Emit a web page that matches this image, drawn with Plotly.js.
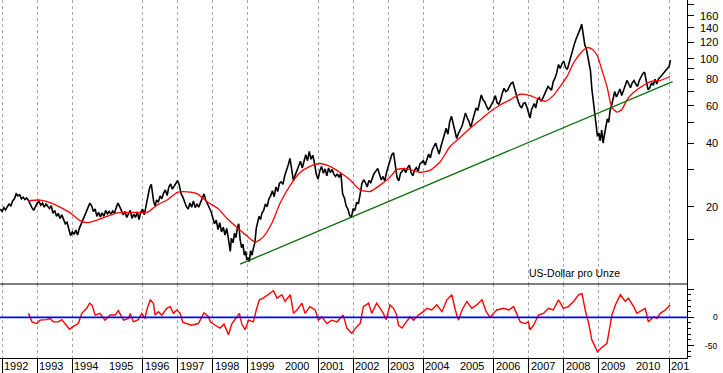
<!DOCTYPE html>
<html><head><meta charset="utf-8">
<script src="https://cdn.plot.ly/plotly-3.0.1.min.js"></script>
<style>html,body{margin:0;padding:0;background:#fff}#chart{width:723px;height:373px}</style>
</head><body><div id="chart"></div>
<script>
// Price (black), decimal years
const priceX = [
1991.95,1992.00,1992.05,1992.10,1992.15,1992.20,1992.25,1992.30,1992.35,1992.40,1992.45,1992.50,1992.55,1992.60,1992.65,1992.70,1992.75,1992.80,1992.85,1992.90,1992.95,
1993.00,1993.05,1993.10,1993.15,1993.20,1993.25,1993.30,1993.35,1993.40,1993.45,1993.50,1993.55,1993.60,1993.65,1993.70,1993.75,1993.80,1993.85,1993.90,1993.95,
1994.00,1994.05,1994.10,1994.15,1994.20,1994.25,1994.30,1994.35,1994.40,1994.45,1994.50,1994.55,1994.60,1994.65,1994.70,1994.75,1994.80,1994.85,1994.90,1994.95,
1995.00,1995.05,1995.10,1995.15,1995.20,1995.25,1995.30,1995.35,1995.40,1995.45,1995.50,1995.55,1995.60,1995.65,1995.70,1995.75,1995.80,1995.85,1995.90,1995.95,
1996.00,1996.05,1996.10,1996.15,1996.20,1996.25,1996.28,1996.32,1996.36,1996.40,1996.45,1996.50,1996.55,1996.60,1996.65,1996.70,1996.75,1996.80,1996.85,1996.90,1996.95,
1997.00,1997.05,1997.10,1997.15,1997.20,1997.25,1997.30,1997.35,1997.40,1997.45,1997.50,1997.55,1997.60,1997.65,1997.70,1997.75,1997.80,1997.85,1997.90,1997.95,
1998.00,1998.05,1998.10,1998.15,1998.20,1998.25,1998.30,1998.35,1998.40,1998.45,1998.50,1998.53,1998.58,1998.62,1998.66,1998.70,1998.74,1998.78,1998.82,1998.86,1998.90,1998.94,1998.97,
1999.00,1999.04,1999.08,1999.12,1999.16,1999.20,1999.24,1999.28,1999.32,1999.36,1999.40,1999.45,1999.50,1999.55,1999.60,1999.65,1999.70,1999.75,1999.80,1999.85,1999.90,1999.95,
2000.00,2000.05,2000.10,2000.15,2000.20,2000.25,2000.30,2000.35,2000.40,2000.45,2000.50,2000.55,2000.60,2000.65,2000.70,2000.75,2000.80,2000.85,2000.90,2000.95,
2001.00,2001.05,2001.10,2001.15,2001.20,2001.25,2001.30,2001.35,2001.40,2001.45,2001.50,2001.55,2001.60,2001.65,2001.70,2001.75,2001.80,2001.85,2001.90,2001.95,
2002.00,2002.05,2002.10,2002.15,2002.20,2002.25,2002.30,2002.35,2002.40,2002.45,2002.50,2002.55,2002.60,2002.65,2002.70,2002.75,2002.80,2002.85,2002.90,2002.95,
2003.00,2003.05,2003.10,2003.15,2003.20,2003.25,2003.30,2003.35,2003.40,2003.45,2003.50,2003.55,2003.60,2003.65,2003.70,2003.75,2003.80,2003.85,2003.90,2003.95,
2004.00,2004.05,2004.10,2004.15,2004.20,2004.25,2004.30,2004.35,2004.40,2004.45,2004.50,2004.55,2004.60,2004.65,2004.70,2004.75,2004.80,2004.85,2004.90,2004.95,
2005.00,2005.05,2005.10,2005.15,2005.20,2005.25,2005.30,2005.35,2005.40,2005.45,2005.50,2005.55,2005.60,2005.65,2005.70,2005.75,2005.80,2005.85,2005.90,2005.95,
2006.00,2006.05,2006.10,2006.15,2006.20,2006.25,2006.30,2006.35,2006.40,2006.45,2006.50,2006.55,2006.60,2006.65,2006.70,2006.75,2006.80,2006.85,2006.90,2006.95,
2007.00,2007.04,2007.08,2007.12,2007.16,2007.20,2007.25,2007.30,2007.35,2007.40,2007.45,2007.50,2007.55,2007.60,2007.65,2007.70,2007.75,2007.80,2007.85,2007.90,2007.95,
2008.00,2008.05,2008.10,2008.15,2008.20,2008.25,2008.30,2008.35,2008.40,2008.45,2008.48,2008.51,2008.54,2008.57,2008.60,2008.64,2008.68,2008.72,2008.76,2008.80,2008.84,2008.88,2008.92,2008.96,
2009.00,2009.04,2009.08,2009.12,2009.16,2009.20,2009.24,2009.28,2009.32,2009.36,2009.40,2009.45,2009.50,2009.55,2009.60,2009.65,2009.70,2009.75,2009.80,2009.85,2009.90,2009.95,
2010.00,2010.05,2010.10,2010.15,2010.20,2010.25,2010.30,2010.35,2010.40,2010.45,2010.50,2010.55,2010.60,2010.65,2010.70,2010.75,2010.80,2010.85,2010.90,2010.95,
2011.00,2011.04];
const priceY = [
19.5,19.0,19.8,19.3,20.0,20.6,20.2,21.3,21.8,23.0,22.5,22.8,21.8,22.2,21.6,22.0,21.4,20.5,19.8,19.2,20.0,
20.8,21.2,20.3,20.8,19.9,20.6,20.1,19.6,20.2,18.6,19.2,18.0,18.6,17.6,18.3,17.2,16.6,16.9,15.4,14.6,
15.2,14.8,15.5,14.7,15.8,16.5,17.2,18.2,19.0,19.6,20.8,20.2,19.0,19.5,18.0,18.8,17.9,18.7,18.0,19.2,
18.5,19.0,18.4,19.1,18.6,19.8,20.8,20.0,19.2,18.3,19.0,17.8,18.5,19.2,17.6,18.4,17.8,18.9,17.4,18.8,
19.5,18.3,20.2,22.5,24.5,25.5,23.0,21.0,20.2,21.5,21.0,22.5,21.8,23.2,24.0,22.6,24.8,25.6,24.2,25.0,26.0,
26.6,25.2,23.0,22.2,21.0,20.0,19.5,20.8,19.9,21.3,19.8,20.5,19.9,20.8,21.6,23.0,21.5,20.6,19.6,19.0,
17.8,16.6,17.3,15.6,16.8,15.2,16.0,14.7,15.8,13.8,12.3,14.2,13.5,15.0,14.3,15.8,16.6,14.0,12.8,13.3,11.8,12.3,11.2,
11.5,11.0,12.4,11.8,12.8,13.5,15.8,17.2,18.0,17.4,18.6,19.2,20.6,20.0,21.8,22.5,23.8,22.3,24.8,23.6,25.8,26.2,
25.5,28.0,29.5,31.5,33.8,29.0,26.5,28.2,29.6,31.5,32.8,30.5,33.0,35.2,33.0,36.5,33.5,35.0,32.0,28.5,
27.0,29.5,31.0,28.8,30.2,28.0,30.5,29.0,30.0,28.5,27.8,28.6,27.5,28.8,23.0,22.0,20.2,19.5,18.2,17.8,
19.6,19.2,21.0,20.6,23.0,25.8,26.8,26.0,24.8,26.6,26.0,27.6,28.8,29.5,30.3,28.5,26.8,27.8,26.5,29.0,
30.8,32.5,35.2,36.0,31.0,27.5,26.5,28.8,29.5,30.2,29.0,30.6,31.4,29.0,28.0,29.8,30.6,29.5,31.8,32.5,
33.0,31.5,33.5,35.5,34.0,37.0,38.5,40.0,37.5,35.5,38.5,41.0,44.5,47.0,44.0,50.5,53.5,49.0,44.5,42.0,
44.5,46.5,48.0,51.5,55.5,52.5,50.5,47.5,51.5,55.0,58.5,57.0,62.0,67.5,64.0,62.5,59.5,57.5,59.0,61.0,
63.5,67.0,62.0,61.0,64.0,69.0,72.5,70.0,71.0,74.0,76.5,77.5,72.5,66.0,63.0,60.0,58.5,61.5,62.0,59.0,
55.0,52.5,57.5,59.5,61.5,58.5,64.0,65.5,63.0,65.0,68.0,70.5,74.0,72.5,71.0,78.0,81.0,86.0,94.0,90.0,95.0,
97.5,91.0,89.0,96.0,104.0,109.0,117.0,124.0,130.0,134.0,140.0,146.0,137.0,124.0,116.0,112.0,103.0,98.0,88.0,72.0,64.0,56.0,48.0,43.0,
44.5,41.0,46.0,40.0,44.0,47.0,52.0,50.0,57.0,60.0,64.0,70.0,66.0,69.0,72.0,67.0,71.0,75.0,79.0,76.0,73.0,77.0,
79.0,76.0,74.0,79.0,82.0,85.0,86.5,79.0,71.5,73.0,77.0,75.0,80.0,76.0,80.5,82.0,84.0,85.0,88.0,90.0,
92.0,98.5];

// Moving average (red)
const maX = [1992.74,1993.08,1993.37,1993.65,1993.94,1994.22,1994.42,1994.71,1994.99,1995.28,1995.73,1996.13,1996.42,1996.70,1996.99,1997.27,1997.56,1997.84,1998.13,1998.41,1998.70,1998.92,1999.21,1999.44,1999.69,1999.92,2000.21,2000.49,2000.77,2001.06,2001.34,2001.63,2001.91,2002.20,2002.48,2002.77,2003.05,2003.25,2003.62,2003.91,2004.19,2004.48,2004.76,2005.05,2005.33,2005.62,2005.90,2006.19,2006.47,2006.76,2007.04,2007.33,2007.47,2007.70,2007.90,2008.10,2008.27,2008.47,2008.67,2008.81,2008.95,2009.09,2009.23,2009.37,2009.52,2009.66,2009.80,2009.97,2010.17,2010.46,2010.75,2011.03];
const maY = [21.3,21.5,20.9,19.9,18.7,17.2,16.8,17.3,18.0,18.7,18.8,18.8,20.4,21.5,23.4,23.5,23.0,21.1,19.7,17.6,15.9,14.8,13.6,14.4,16.8,20.8,25.3,29.0,31.0,32.0,31.0,29.0,26.8,24.0,23.6,25.3,27.6,30.0,30.0,29.1,29.7,32.6,38.5,42.5,47.0,51.4,56.2,60.5,64.0,68.0,67.0,64.0,63.0,67.0,74.0,83.0,95.0,106,113,111,104,88,74,59,56,57.8,64,69,73,78,79,82.5];

// Trend line (green)
const trendX = [1998.78, 2011.10];
const trendY = [10.7, 78];

// Oscillator (lower panel)
const oscX = [1992.75,1992.85,1992.99,1993.08,1993.27,1993.37,1993.46,1993.60,1993.70,1993.79,1993.92,1994.03,1994.17,1994.27,1994.41,1994.49,1994.56,1994.65,1994.79,1994.93,1995.08,1995.22,1995.31,1995.46,1995.60,1995.65,1995.74,1995.88,1995.98,1996.07,1996.12,1996.22,1996.31,1996.36,1996.45,1996.55,1996.69,1996.79,1996.88,1996.98,1997.07,1997.15,1997.26,1997.40,1997.59,1997.75,1997.88,1997.93,1998.07,1998.21,1998.32,1998.45,1998.54,1998.69,1998.76,1998.83,1998.92,1999.02,1999.16,1999.24,1999.33,1999.44,1999.59,1999.73,1999.83,1999.97,2000.06,2000.21,2000.30,2000.40,2000.54,2000.63,2000.77,2000.92,2001.01,2001.11,2001.25,2001.39,2001.54,2001.72,2001.82,2001.96,2002.11,2002.20,2002.29,2002.44,2002.53,2002.67,2002.77,2002.86,2002.94,2003.05,2003.15,2003.24,2003.29,2003.39,2003.48,2003.62,2003.72,2003.86,2004.00,2004.10,2004.24,2004.38,2004.53,2004.67,2004.81,2004.91,2005.00,2005.10,2005.24,2005.38,2005.52,2005.67,2005.79,2005.90,2006.00,2006.09,2006.28,2006.43,2006.57,2006.66,2006.76,2006.90,2006.99,2007.04,2007.14,2007.28,2007.42,2007.56,2007.70,2007.85,2007.99,2008.13,2008.28,2008.42,2008.52,2008.61,2008.71,2008.80,2008.96,2009.05,2009.23,2009.37,2009.47,2009.61,2009.75,2009.84,2009.99,2010.08,2010.22,2010.32,2010.41,2010.56,2010.65,2010.75,2010.89,2011.03];
const oscY = [7,-8,-11,-5,-4,-2,-8,-8,-4,-11,-21,-16,-11,7,16,25,22,4,7,-5,4,4,12,-5,-2,7,-8,-4,7,-2,13,31,25,4,10,4,16,19,7,13,7,-9,-11,-14,-11,8,1,-8,-14,-19,-12,-31,-12,1,7,-12,-22,-5,-8,13,31,34,40,47,34,40,28,40,7,13,25,7,19,13,-5,1,-11,-5,-8,4,-19,-28,-16,-11,19,25,7,25,16,7,-4,22,16,4,-14,-19,-11,1,-5,4,10,16,13,22,10,31,40,13,-5,13,28,16,22,31,10,0,7,13,16,13,19,7,-8,-11,-8,-22,-14,4,7,16,13,31,16,19,28,40,42,13,-11,-40,-61,-55,-46,4,22,40,28,34,19,7,13,16,-8,1,-2,7,13,22];

const years = [1992,1993,1994,1995,1996,1997,1998,1999,2000,2001,2002,2003,2004,2005,2006,2007,2008,2009,2010,2011];
const yearLabels = ['1992','1993','1994','1995','1996','1997','1998','1999','2000','2001','2002','2003','2004','2005','2006','2007','2008','2009','2010','201'];
const priceTickVals = [14,20,30,40,50,60,70,80,90,100,120,140,160,180];
const priceLabelVals = [20,40,60,80,100,120,140,160];
const oscTickVals = [-50,0,50];
const oscLabelVals = [0,-50];
const unitText = 'US-Dollar pro Unze';

const FONT = 'Liberation Sans, Arial, sans-serif';
const W = 687, H = 358;
const split = (358-284)/358;

const traces = [
  {x: priceX, y: priceY, xaxis:'x', yaxis:'y', mode:'lines', line:{color:'#000000', width:1.6}, hoverinfo:'skip'},
  {x: maX, y: maY, xaxis:'x', yaxis:'y', mode:'lines', line:{color:'#ff0000', width:1.3, shape:'spline', smoothing:0.6}, hoverinfo:'skip'},
  {x: trendX, y: trendY, xaxis:'x', yaxis:'y', mode:'lines', line:{color:'#0a6e0a', width:1.3}, hoverinfo:'skip'},
  {x: oscX, y: oscY, xaxis:'x', yaxis:'y2', mode:'lines', line:{color:'#ff0000', width:1.4}, hoverinfo:'skip'}
];

const annotations = [];
years.forEach((yr, i) => annotations.push({
  xref:'x', yref:'paper', x: yr, y: 0, xanchor:'left', yanchor:'top', xshift: 0, yshift: 0,
  text: yearLabels[i], showarrow:false, font:{family:FONT, size:11, color:'#000'}
}));
priceLabelVals.forEach(v => annotations.push({
  xref:'paper', yref:'y', x: 720/W, y: Math.log10(v), xanchor:'right', yanchor:'middle',
  text: String(v), showarrow:false, font:{family:FONT, size:11, color:'#000'}
}));
oscLabelVals.forEach(v => annotations.push({
  xref:'paper', yref:'y2', x: 720/W, y: v, xanchor:'right', yanchor:'middle',
  text: String(v), showarrow:false, font:{family:FONT, size:8.5, color:'#000'}
}));
annotations.push({xref:'paper', yref:'paper', x: 527/W, y: (H-273)/H, xanchor:'left', yanchor:'middle',
  text: unitText, showarrow:false, font:{family:FONT, size:10.5, color:'#000'}});

const gridMinor = {tick0:1992, dtick:1, ticks:'outside', ticklen:15, tickcolor:'#000', tickwidth:1,
  showgrid:true, gridcolor:'#a8a8a8', griddash:'3px,3px', gridwidth:1};

const layout = {
  width:723, height:373,
  margin:{l:0, r:36, t:0, b:15, pad:0},
  paper_bgcolor:'#fff', plot_bgcolor:'#fff',
  showlegend:false,
  font:{family:FONT, size:11, color:'#000'},
  xaxis:{range:[1991.94, 2011.51], anchor:'y2', showline:true, linecolor:'#000', linewidth:1,
    ticks:'', showticklabels:false, showgrid:false, zeroline:false, minor: gridMinor},
  yaxis:{type:'log', domain:[split, 1], range:[0.9357, 2.2779], side:'right', anchor:'x',
    showline:true, linecolor:'#000', linewidth:1, ticks:'outside', ticklen:6, tickcolor:'#000',
    tickmode:'array', tickvals: priceTickVals, showticklabels:false, showgrid:false, zeroline:false},
  yaxis2:{domain:[0, split], range:[-72, 59], side:'right', anchor:'x',
    showline:true, linecolor:'#000', linewidth:1, ticks:'outside', ticklen:6, tickcolor:'#000',
    tickmode:'array', tickvals: oscTickVals, showticklabels:false, showgrid:false, zeroline:false,
    minor:{dtick:10, ticks:'outside', ticklen:3, tickcolor:'#000'}},
  shapes:[
    {type:'line', xref:'paper', yref:'paper', x0:0, x1:1, y0:split, y1:split, line:{color:'#000', width:1}},
    {type:'line', xref:'paper', yref:'y2', x0:0, x1:1, y0:0, y1:0, line:{color:'#0000ff', width:1.6}}
  ],
  annotations: annotations
};

Plotly.newPlot('chart', traces, layout, {staticPlot:true, displayModeBar:false});
</script></body></html>
